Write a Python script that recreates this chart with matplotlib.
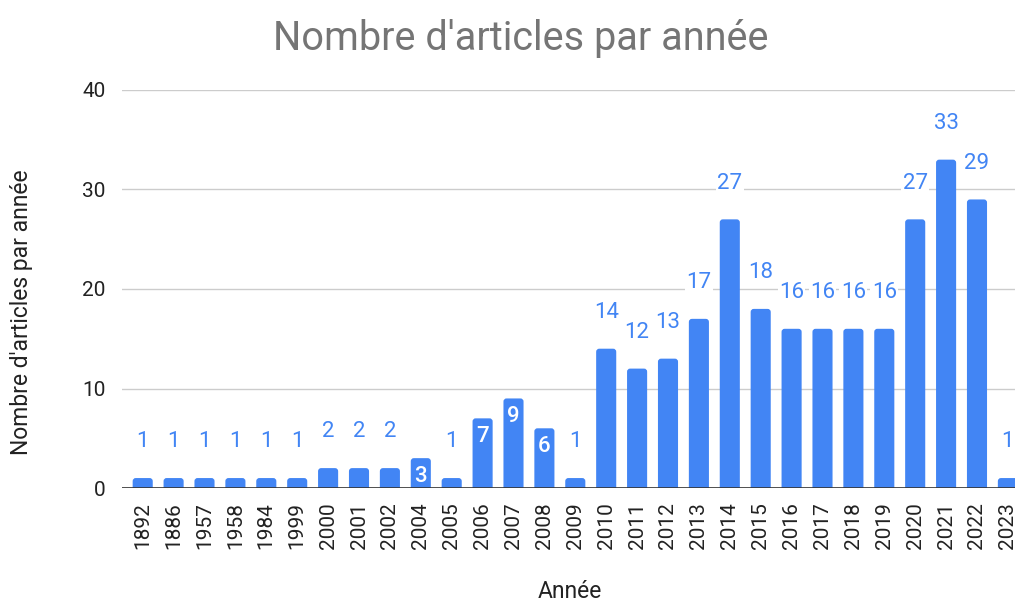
import matplotlib.pyplot as plt
from matplotlib.patches import FancyBboxPatch

years = ["1892", "1886", "1957", "1958", "1984", "1999", "2000", "2001", "2002",
         "2004", "2005", "2006", "2007", "2008", "2009", "2010", "2011", "2012",
         "2013", "2014", "2015", "2016", "2017", "2018", "2019", "2020", "2021",
         "2022", "2023"]
counts = [1, 1, 1, 1, 1, 1, 2, 2, 2, 3, 1, 7, 9, 6, 1, 14, 12, 13, 17, 27, 18,
          16, 16, 16, 16, 27, 33, 29, 1]
# labels drawn inside the bar (white) in the original
inside = ["2004", "2006", "2007", "2008"]

plt.rcParams['font.family'] = ['Roboto', 'DejaVu Sans']
blue = "#4285F4"

fig = plt.figure(figsize=(10.15, 6.01), dpi=100)
ax = fig.add_axes([122 / 1015, 1 - 488 / 601, 1 - 122 / 1015, 398 / 601])

x = list(range(len(years)))
bars = ax.bar(x, counts, width=0.65, color=blue, zorder=3)

# rounded tops like the sheets chart
for b in bars:
    b.set_visible(False)
    p = FancyBboxPatch((b.get_x(), -0.4), b.get_width(), b.get_height() + 0.4,
                       boxstyle="round,pad=0,rounding_size=0.1",
                       mutation_aspect=3.1, facecolor=blue, edgecolor="none",
                       zorder=3)
    ax.add_patch(p)

for i, (yr, c) in enumerate(zip(years, counts)):
    if yr in inside:
        ax.annotate(str(c), (i, c), xytext=(0, -13), textcoords="offset points",
                    ha="center", va="center", color="white", fontsize=16,
                    fontweight="medium", zorder=4, annotation_clip=False)
    else:
        t = ax.annotate(str(c), (i, c), xytext=(0, 26), textcoords="offset points",
                        ha="center", va="center", color=blue, fontsize=16,
                        zorder=4, annotation_clip=False,
                        bbox=dict(facecolor="white", edgecolor="none", pad=1))
        t.set_clip_on(True)

ax.set_xlim(-0.67, 28.23)
ax.set_ylim(0, 40)
ax.set_yticks([0, 10, 20, 30, 40])
ax.set_xticks(x)
ax.set_xticklabels(years, rotation=90, fontsize=15, color="#222222")
ax.tick_params(axis="y", labelsize=15, labelcolor="#222222", length=0, pad=12)
ax.tick_params(axis="x", length=0, pad=10)
ax.grid(axis="y", color="#cccccc", linewidth=1, zorder=0)
ax.axhline(0, color="#333333", linewidth=1.2, zorder=5)
for s in ax.spines.values():
    s.set_visible(False)

ax.set_ylabel("Nombre d'articles par année", fontsize=16.5, color="#222222",
              va="center")
ax.yaxis.set_label_coords((22 - 122) / 893, 0.442)
ax.set_xlabel("Année", fontsize=16.5, color="#222222", va="center")
ax.xaxis.set_label_coords((570 - 122) / 893, (488 - 591) / 398)
fig.text(521 / 1015, 1 - 38 / 601, "Nombre d'articles par année", ha="center",
         va="center", fontsize=28.5, color="#757575")

fig.savefig("out.png", dpi=100)
